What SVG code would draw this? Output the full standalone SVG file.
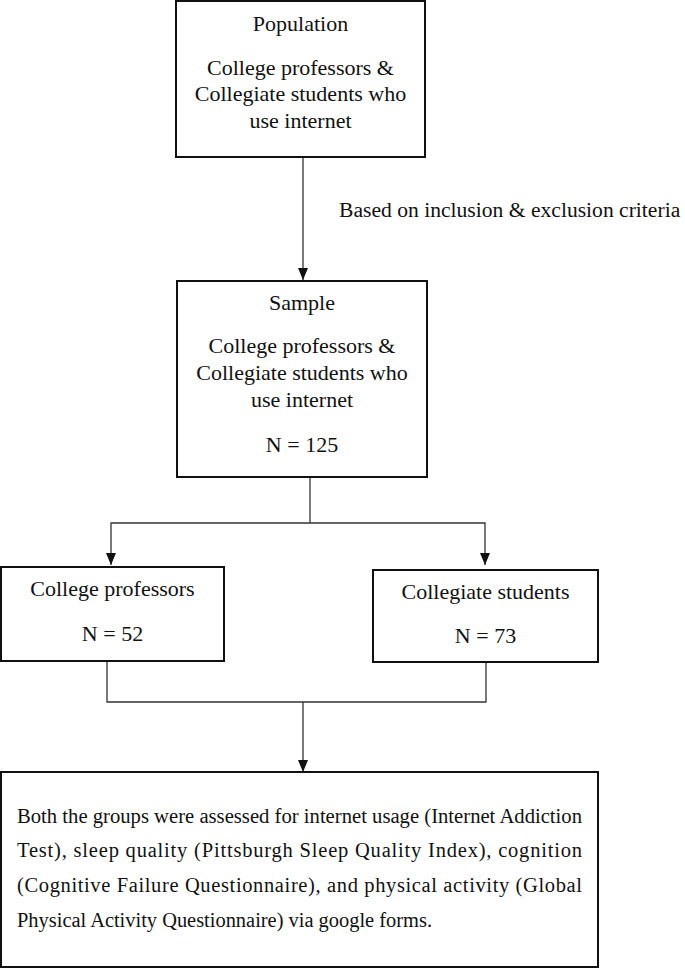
<svg xmlns="http://www.w3.org/2000/svg" width="685" height="969" viewBox="0 0 685 969">
<style>
.box{fill:#fff;stroke:#111;stroke-width:2}
.t{font-family:"Liberation Serif","Times New Roman",serif;font-size:22px;fill:#111;text-anchor:middle}
.b{font-family:"Liberation Serif","Times New Roman",serif;font-size:20.5px;fill:#111}
.c{fill:none;stroke:#333;stroke-width:1.3}
</style>
<defs>
<marker id="ah" markerWidth="10" markerHeight="12" refX="5" refY="12" orient="auto-start-reverse" markerUnits="userSpaceOnUse" viewBox="0 0 10 12">
<path d="M0,0 L10,0 L5,12 Z" fill="#111" transform="rotate(0)"/>
</marker>
</defs>
<rect width="685" height="969" fill="#fff"/>
<g id="connectors">
<line class="c" x1="303" y1="157" x2="303" y2="280"/>
<path d="M0,0 L10,0 L5,12 Z" fill="#111" transform="translate(298,268)"/>
<line class="c" x1="310" y1="477" x2="310" y2="523"/>
<polyline class="c" points="111,565 111,523 485,523 485,565"/>
<path d="M0,0 L10,0 L5,12 Z" fill="#111" transform="translate(106,553)"/>
<path d="M0,0 L10,0 L5,12 Z" fill="#111" transform="translate(480,553)"/>
<polyline class="c" points="107,661 107,702 486,702 486,662"/>
<line class="c" x1="303" y1="702" x2="303" y2="771"/>
<path d="M0,0 L10,0 L5,12 Z" fill="#111" transform="translate(298,760)"/>
<text class="t" x="339" y="217" style="text-anchor:start;font-size:21.6px">Based on inclusion &amp; exclusion criteria</text>
</g>
<g id="population">
<rect class="box" x="176" y="1" width="249" height="156"/>
<text class="t" x="300.5" y="31">Population</text>
<text class="t" x="300.5" y="75">College professors &amp;</text>
<text class="t" x="300.5" y="101">Collegiate students who</text>
<text class="t" x="300.5" y="128">use internet</text>
</g>
<g id="sample">
<rect class="box" x="177" y="281" width="250" height="196"/>
<text class="t" x="302" y="310">Sample</text>
<text class="t" x="302" y="353">College professors &amp;</text>
<text class="t" x="302" y="380">Collegiate students who</text>
<text class="t" x="302" y="407">use internet</text>
<text class="t" x="302" y="452">N = 125</text>
</g>
<g id="professors">
<rect class="box" x="1" y="567" width="223" height="94"/>
<text class="t" x="112.5" y="596">College professors</text>
<text class="t" x="112.5" y="641">N = 52</text>
</g>
<g id="students">
<rect class="box" x="373" y="570" width="225" height="92"/>
<text class="t" x="485.5" y="599">Collegiate students</text>
<text class="t" x="485.5" y="643">N = 73</text>
</g>
<g id="assessment">
<rect class="box" x="1" y="772" width="597" height="195"/>
<text class="b" x="17" y="823" textLength="565" lengthAdjust="spacingAndGlyphs">Both the groups were assessed for internet usage (Internet Addiction</text>
<text class="b" x="17" y="857" textLength="565" lengthAdjust="spacing">Test),  sleep  quality  (Pittsburgh  Sleep  Quality  Index),  cognition</text>
<text class="b" x="17" y="892" textLength="565" lengthAdjust="spacing">(Cognitive  Failure  Questionnaire),  and  physical  activity  (Global</text>
<text class="b" x="17" y="927" textLength="415" lengthAdjust="spacingAndGlyphs">Physical Activity Questionnaire) via google forms.</text>
</g>
</svg>
